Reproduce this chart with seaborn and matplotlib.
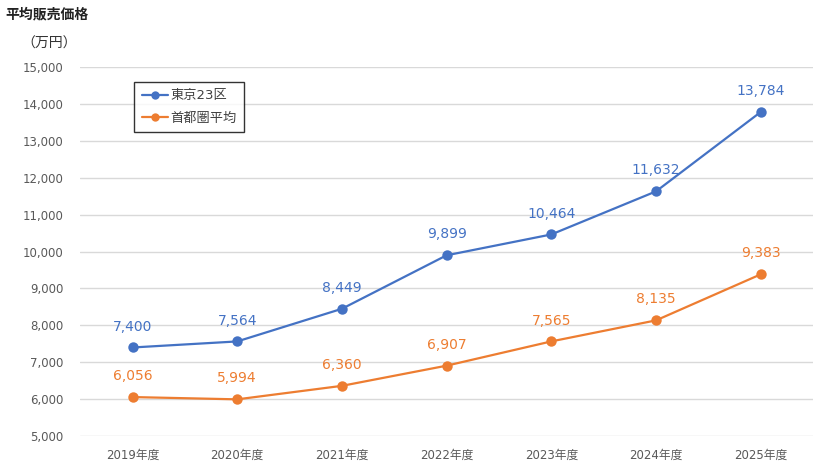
import matplotlib
matplotlib.use("Agg")
import matplotlib.pyplot as plt
import seaborn as sns
import pandas as pd

years = ["2019年度", "2020年度", "2021年度", "2022年度", "2023年度", "2024年度", "2025年度"]
tokyo23 = [7400, 7564, 8449, 9899, 10464, 11632, 13784]
shutoken = [6056, 5994, 6360, 6907, 7565, 8135, 9383]
series_names = ["東京23区", "首都圏平均"]

sns.set_theme(style="white")
plt.rcParams["font.family"] = ["DejaVu Sans", "Noto Sans CJK JP"]

df = pd.DataFrame({"年度": years * 2,
                   "価格": tokyo23 + shutoken,
                   "系列": [series_names[0]] * len(years) + [series_names[1]] * len(years)})
colors = {"東京23区": "#4472C4", "首都圏平均": "#ED7D31"}

fig = plt.figure(figsize=(8.18, 4.76), dpi=100)
ax = fig.add_axes([0.098, 0.084, 0.896, 0.775])

sns.lineplot(data=df, x="年度", y="価格", hue="系列", palette=colors, marker="o",
             markersize=7.5, markeredgewidth=0, linewidth=1.6, ax=ax, sort=False)

ax.set_xlim(-0.5, len(years) - 0.5)
ax.set_ylim(5000, 15000)
ax.set_yticks(range(5000, 15001, 1000))
ax.set_yticklabels([f"{v:,}" for v in range(5000, 15001, 1000)])
ax.yaxis.grid(True, color="#D9D9D9", linewidth=1)
ax.set_axisbelow(True)
for s in ax.spines.values():
    s.set_visible(False)
ax.tick_params(axis="both", length=0, labelsize=8.5, colors="#595959")
ax.tick_params(axis="y", pad=12)
ax.tick_params(axis="x", pad=9)
ax.set_xlabel("")
ax.set_ylabel("")

# data labels above each point
for vals, name in [(tokyo23, "東京23区"), (shutoken, "首都圏平均")]:
    for i, v in enumerate(vals):
        ax.annotate(f"{v:,}", (i, v), xytext=(0, 10), textcoords="offset points",
                    ha="center", va="bottom", fontsize=10, color=colors[name])

leg = ax.legend(loc="upper left", bbox_to_anchor=(0.074, 0.96), frameon=True,
                fancybox=False, fontsize=9.5, handlelength=2.0, borderpad=0.55,
                labelspacing=0.75, handletextpad=0.2, markerscale=0.8,
                borderaxespad=0)
leg.get_frame().set_edgecolor("black")
leg.get_frame().set_linewidth(1)
for t in leg.get_texts():
    t.set_color("#404040")

fig.text(0.006, 0.97, "平均販売価格", fontsize=10, fontweight="bold", color="#222222",
         ha="left", va="center")
fig.text(0.026, 0.908, "（万円）", fontsize=10, color="#333333", ha="left", va="center",
         family=["Noto Sans CJK JP"])

fig.savefig("out.png", dpi=100)
